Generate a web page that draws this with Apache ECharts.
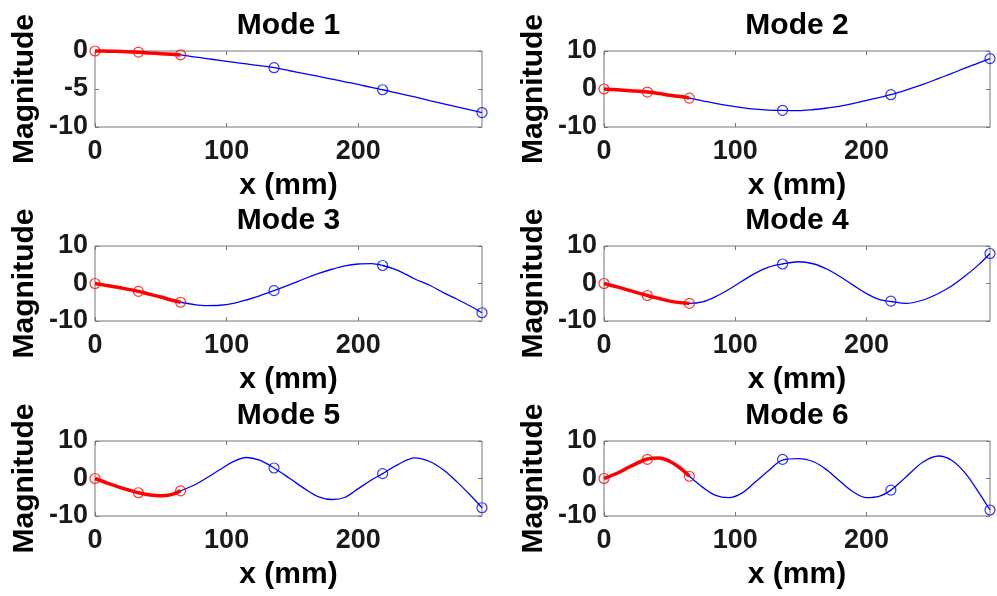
<!DOCTYPE html>
<html>
<head>
<meta charset="utf-8">
<script src="https://cdn.jsdelivr.net/npm/echarts@6/dist/echarts.min.js"></script>
<style>
html,body{margin:0;padding:0;background:#fff;}
#chart{width:997px;height:596px;}
</style>
</head>
<body>
<div id="chart"></div>
<script>
// ---- data ----
const titles = ['Mode 1', 'Mode 2', 'Mode 3', 'Mode 4', 'Mode 5', 'Mode 6'];
const xTicks = [0, 100, 200];
const curveX = [0,10,20,33,42,50,58,65,75,85,95,105,115,125,136,148,160,170,180,190,200,210,218.5,230,243,255,265,275,285,294];
const mode1 = [0,-0.02,-0.07,-0.15,-0.26,-0.35,-0.44,-0.52,-0.76,-1.0,-1.24,-1.47,-1.7,-1.93,-2.2,-2.6,-3.0,-3.35,-3.7,-4.05,-4.4,-4.8,-5.1,-5.55,-6.05,-6.55,-6.95,-7.35,-7.75,-8.1];
const mode2 = [0,-0.2,-0.45,-0.8,-1.2,-1.65,-2.0,-2.4,-3.1,-3.8,-4.4,-4.9,-5.3,-5.55,-5.65,-5.7,-5.4,-5.0,-4.5,-3.8,-3.0,-2.2,-1.5,-0.3,1.2,2.8,4.1,5.5,6.8,8.0];
const mode3 = [0,-0.6,-1.2,-2.1,-2.9,-3.6,-4.4,-5.0,-5.6,-5.9,-5.8,-5.3,-4.4,-3.3,-1.9,-0.3,1.4,2.7,3.8,4.7,5.2,5.3,4.8,3.5,1.2,-0.6,-2.5,-4.2,-6.0,-7.8];
const mode4 = [0,-0.9,-1.9,-3.2,-4.0,-4.7,-5.1,-5.3,-4.9,-3.5,-1.6,0.6,2.7,4.3,5.2,5.8,5.2,3.8,1.8,-0.5,-2.7,-4.3,-4.8,-5.3,-4.4,-2.6,-0.6,2.0,4.9,8.0];
const mode5 = [0,-1.3,-2.5,-3.8,-4.4,-4.6,-4.3,-3.3,-1.8,0.2,2.4,4.5,5.6,4.9,2.8,0.0,-2.9,-4.9,-5.6,-5.0,-2.7,-0.4,1.3,3.7,5.5,4.4,2.2,-0.9,-4.4,-7.8];
const mode6 = [0,1.4,3.2,5.2,5.5,4.6,2.8,0.6,-2.3,-4.5,-5.1,-3.9,-1.0,2.0,4.9,5.3,4.4,2.2,-0.8,-3.6,-5.1,-4.7,-3.1,0.4,4.4,6.0,4.8,1.5,-3.5,-8.4];
const markX = [0, 33, 65, 136, 218.5, 294];
const mark1 = [0, -0.15, -0.5, -2.2, -5.1, -8.1];
const mark2 = [0, -0.8, -2.4, -5.6, -1.5, 8.0];
const mark3 = [0, -2.1, -5.0, -1.9, 4.8, -7.8];
const mark4 = [0, -3.2, -5.3, 5.2, -4.7, 8.0];
const mark5 = [0, -3.8, -3.3, 2.8, 1.3, -7.8];
const mark6 = [0, 5.1, 0.6, 5.1, -3.1, -8.4];
const redEndX = 65;   // red (thick) part of each curve ends here
const yRanges = [[-10, 0, 5], [-10, 10, 10], [-10, 10, 10], [-10, 10, 10], [-10, 10, 10], [-10, 10, 10]];
const yTicks1 = [-10, -5, 0];
const yTicksN = [-10, 0, 10];

const curves = [mode1, mode2, mode3, mode4, mode5, mode6];
const marks = [mark1, mark2, mark3, mark4, mark5, mark6];

// ---- layout ----
const colLeft = [95, 604];
const colWidth = [387, 386];
const rowTop = [51, 246, 441];
const rowHeight = [76, 75, 75];

const FONT = '"Liberation Sans", Arial, Helvetica, sans-serif';
const BOX = '#777';
const TXT = '#1a1a1a';

const grid = [], xAxis = [], yAxis = [], series = [], title = [];

for (let i = 0; i < 6; i++) {
  const c = i % 2, r = Math.floor(i / 2);
  const left = colLeft[c], top = rowTop[r], w = colWidth[c], h = rowHeight[r];
  grid.push({left: left, top: top, width: w, height: h, show: true,
             borderColor: BOX, borderWidth: 1, backgroundColor: '#fff'});
  title.push({text: titles[i], left: left + w / 2, top: top - 25, padding: 0,
              textAlign: 'center', textVerticalAlign: 'middle',
              textStyle: {fontFamily: FONT, fontWeight: 'bold', fontSize: 30, color: '#000'}});
  const yt = i === 0 ? yTicks1 : yTicksN;
  const yr = yRanges[i];
  const tick = {show: true, inside: true, length: 4, lineStyle: {color: BOX}};
  // bottom x axis
  xAxis.push({type: 'value', gridIndex: i, min: 0, max: 294, position: 'bottom',
    name: 'x (mm)', nameLocation: 'middle', nameGap: 44,
    nameTextStyle: {fontFamily: FONT, fontWeight: 'bold', fontSize: 30, color: '#000'},
    axisLine: {show: false, onZero: false},
    splitLine: {show: false},
    axisTick: Object.assign({customValues: xTicks}, tick),
    axisLabel: {show: true, customValues: xTicks, margin: 11, fontFamily: FONT, fontWeight: 'bold', fontSize: 27, color: TXT}
  });
  // top mirror x axis
  xAxis.push({type: 'value', gridIndex: i, min: 0, max: 294, position: 'top',
    axisLine: {show: false, onZero: false}, splitLine: {show: false},
    axisTick: Object.assign({customValues: xTicks}, tick),
    axisLabel: {show: false}
  });
  // left y axis
  yAxis.push({type: 'value', gridIndex: i, min: yr[0], max: yr[1], interval: yr[2], position: 'left',
    name: 'Magnitude', nameLocation: 'middle', nameGap: 55,
    nameTextStyle: {fontFamily: FONT, fontWeight: 'bold', fontSize: 30, color: '#000'},
    axisLine: {show: false, onZero: false}, splitLine: {show: false},
    axisTick: Object.assign({customValues: yt}, tick),
    axisLabel: {show: true, customValues: yt, margin: 7, fontFamily: FONT, fontWeight: 'bold', fontSize: 27, color: TXT}
  });
  // right mirror y axis
  yAxis.push({type: 'value', gridIndex: i, min: yr[0], max: yr[1], interval: yr[2], position: 'right',
    axisLine: {show: false, onZero: false}, splitLine: {show: false},
    axisTick: Object.assign({customValues: yt}, tick),
    axisLabel: {show: false}
  });

  const full = curveX.map((x, k) => [x, curves[i][k]]);
  const redPart = full.filter(p => p[0] <= redEndX);
  const pts = markX.map((x, k) => [x, marks[i][k]]);
  const xi = 2 * i, yi = 2 * i;
  series.push({type: 'line', xAxisIndex: xi, yAxisIndex: yi, data: full, smooth: 0.35,
    showSymbol: false, symbol: 'none', clip: false, silent: true,
    lineStyle: {color: '#0000ff', width: 1.3}, z: 2});
  series.push({type: 'line', xAxisIndex: xi, yAxisIndex: yi, data: redPart, smooth: 0.35,
    showSymbol: false, symbol: 'none', clip: false, silent: true,
    lineStyle: {color: '#ff0000', width: 3.5}, z: 3});
  series.push({type: 'scatter', xAxisIndex: xi, yAxisIndex: yi, data: pts.slice(0, 3),
    symbol: 'circle', symbolSize: 10, clip: false, silent: true,
    itemStyle: {color: 'rgba(0,0,0,0)', borderColor: '#ff0000', borderWidth: 1.2}, z: 4});
  series.push({type: 'scatter', xAxisIndex: xi, yAxisIndex: yi, data: pts.slice(3),
    symbol: 'circle', symbolSize: 10, clip: false, silent: true,
    itemStyle: {color: 'rgba(0,0,0,0)', borderColor: '#0000ff', borderWidth: 1.2}, z: 4});
}

const chart = echarts.init(document.getElementById('chart'), null, {renderer: 'canvas'});
chart.setOption({
  animation: false,
  backgroundColor: '#fff',
  title: title,
  grid: grid,
  xAxis: xAxis,
  yAxis: yAxis,
  series: series
});
</script>
</body>
</html>
